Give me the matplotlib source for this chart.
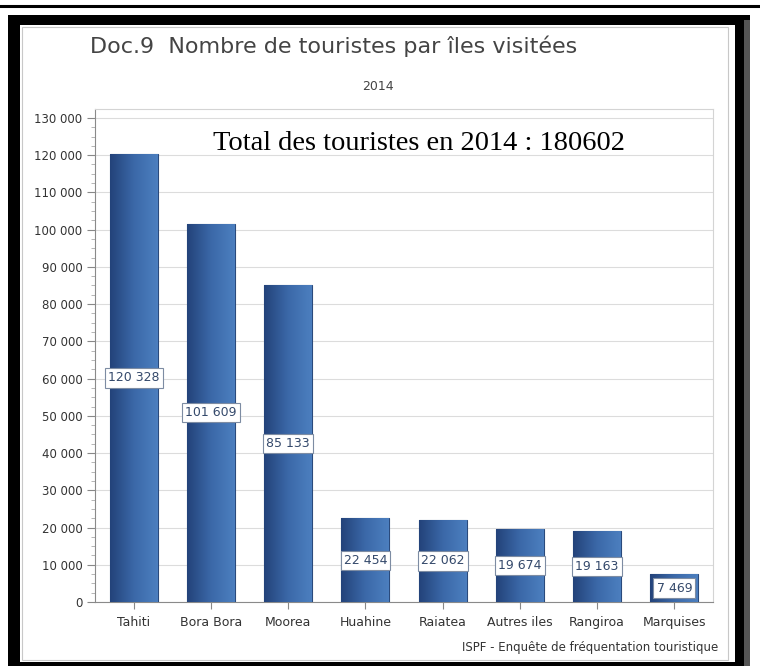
import numpy as np
import matplotlib
matplotlib.use('Agg')
import matplotlib.pyplot as plt
from matplotlib.patches import Rectangle
from matplotlib.lines import Line2D
from matplotlib.ticker import MultipleLocator, FuncFormatter
from matplotlib.colors import LinearSegmentedColormap

# data
iles = ['Tahiti', 'Bora Bora', 'Moorea', 'Huahine', 'Raiatea', 'Autres iles', 'Rangiroa', 'Marquises']
touristes = [120328, 101609, 85133, 22454, 22062, 19674, 19163, 7469]
total = 180602
annee = 2014

W, H = 760, 666
fig = plt.figure(figsize=(W / 100, H / 100), dpi=100, facecolor='white')

def px(x, y):
    # pixel coords (from top left) -> figure fraction
    return x / W, 1 - y / H

def rect_px(x0, y0, x1, y1, **kw):
    fx0, fy1 = px(x0, y1)
    fx1, fy0 = px(x1, y0)
    r = Rectangle((fx0, fy1), fx1 - fx0, fy0 - fy1, transform=fig.transFigure, **kw)
    fig.add_artist(r)

# black frame around the screenshot
fig.add_artist(Line2D([0, 1], [1 - 6 / H, 1 - 6 / H], color='black', lw=2.2, transform=fig.transFigure))
rect_px(8, 15, 750, 670, facecolor='black', edgecolor='none', zorder=0)
rect_px(744, 20, 750, 670, facecolor='#555555', edgecolor='none', zorder=0)
rect_px(20, 25, 735, 662, facecolor='white', edgecolor='none', zorder=0)
rect_px(22, 27, 728, 660, facecolor='none', edgecolor='#c8c8c8', lw=0.8, zorder=0)

l, b = px(95, 602)
r, t = px(713, 109)
ax = fig.add_axes([l, b, r - l, t - b])
ax.set_facecolor('none')

x = np.arange(len(iles))
bars = ax.bar(x, touristes, width=0.62, color='#3a66a5', edgecolor='#2a4a7c', lw=0.8, zorder=3)

# horizontal gradient inside each bar
cmap = LinearSegmentedColormap.from_list('g', ['#23437a', '#3b68a8', '#4c7fbf'])
grad = np.linspace(0, 1, 64).reshape(1, -1)
for bar in bars:
    im = ax.imshow(grad, cmap=cmap, aspect='auto', zorder=3,
                   extent=(bar.get_x(), bar.get_x() + bar.get_width(), 0, bar.get_height()))
    im.set_clip_path(bar)

for xi, v in zip(x, touristes):
    ax.text(xi, v / 2, f'{v:,}'.replace(',', ' '), ha='center', va='center', fontsize=9,
            color='#34496b', zorder=5,
            bbox=dict(boxstyle='square,pad=0.25', fc='white', ec='#7d8ca3', lw=0.8))

ax.set_xlim(-0.5, len(iles) - 0.5)
ax.set_ylim(0, 132400)
ax.yaxis.set_major_locator(MultipleLocator(10000))
ax.yaxis.set_minor_locator(MultipleLocator(2500))
ax.yaxis.set_major_formatter(FuncFormatter(lambda v, p: f'{int(v):,}'.replace(',', ' ')))
ax.set_xticks(x)
ax.set_xticklabels(iles)
ax.tick_params(axis='y', which='major', length=6, color='#888888', labelsize=8.5, labelcolor='#333333', pad=3)
ax.tick_params(axis='y', which='minor', length=3, color='#aaaaaa')
ax.tick_params(axis='x', length=5, color='#888888', labelsize=9, labelcolor='#333333', pad=5)
ax.grid(axis='y', which='major', color='#dcdcdc', lw=0.8, zorder=0)
ax.set_axisbelow(True)
for s in ['top', 'right']:
    ax.spines[s].set_color('#d4d4d4')
for s in ['left', 'bottom']:
    ax.spines[s].set_color('#8a8a8a')

fx, fy = px(90, 46)
fig.text(fx, fy, 'Doc.9  Nombre de touristes par îles visitées', fontsize=16, color='#444444',
         ha='left', va='center')
fx, fy = px(378, 86)
fig.text(fx, fy, str(annee), fontsize=9, color='#444444', ha='center', va='center')
fx, fy = px(419, 143)
fig.text(fx, fy, f'Total des touristes en {annee} : {total}', fontsize=20.5, family='Liberation Serif',
         color='black', ha='center', va='center')
fx, fy = px(718, 648)
fig.text(fx, fy, 'ISPF - Enquête de fréquentation touristique', fontsize=8.5, color='#333333',
         ha='right', va='center')

fig.savefig('out.png', dpi=100, facecolor='white')
